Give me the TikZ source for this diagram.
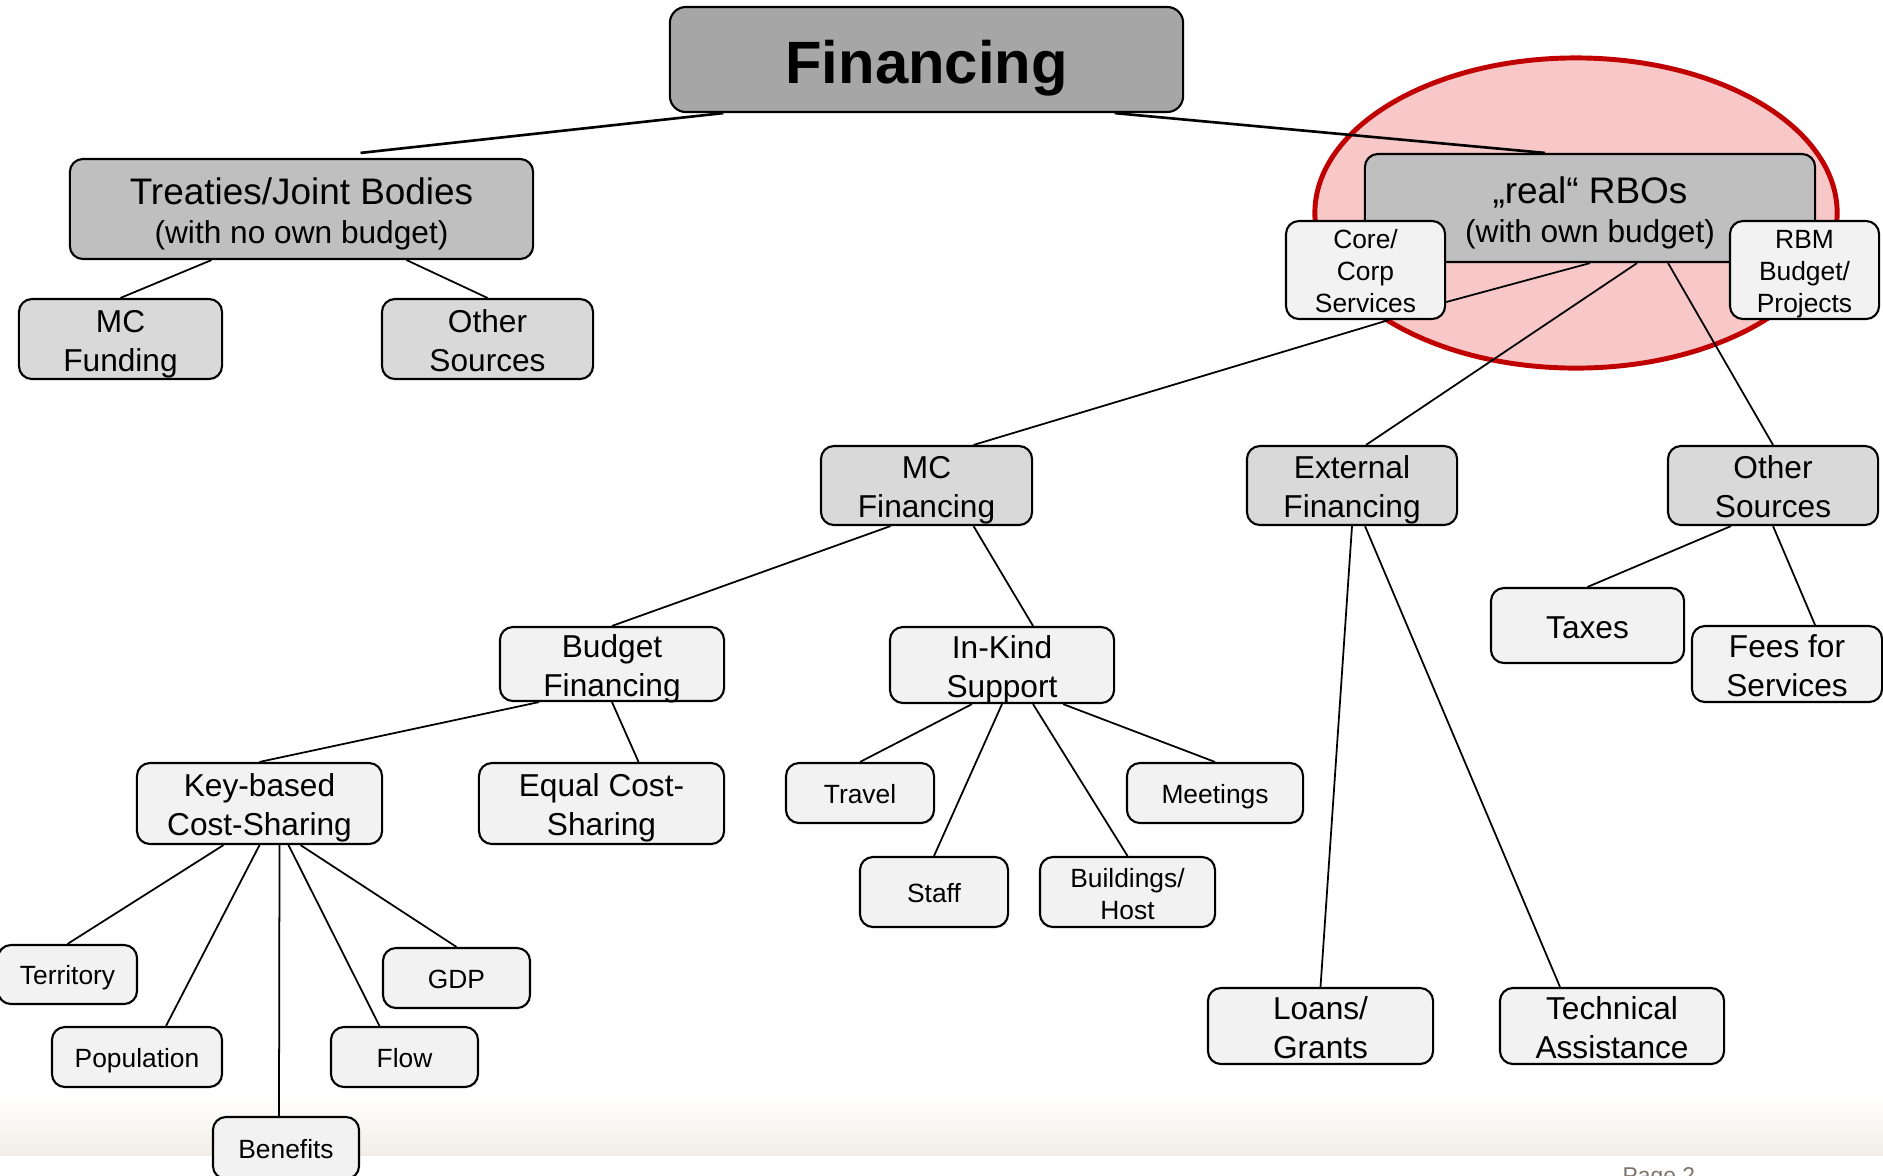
\documentclass[tikz,border=0pt]{standalone}
\usepackage{fontspec}
\setmainfont{Liberation Sans}
\usetikzlibrary{shapes, positioning}

\definecolor{finGray}{RGB}{166,166,166}
\definecolor{headGray}{RGB}{191,191,191}
\definecolor{midGray}{RGB}{217,217,217}
\definecolor{leafGray}{RGB}{242,242,242}
\definecolor{rboPink}{RGB}{248,199,199}
\definecolor{rboRed}{RGB}{192,0,0}
\definecolor{bandTan}{RGB}{242,238,231}
\definecolor{pageGray}{RGB}{125,115,105}

% keeps the text in a box as high as a full line of the font
\newcommand{\boxstrut}{\rule[-0.2em]{0pt}{1.2em}}

\begin{document}
\begin{tikzpicture}[
	x=0.01cm, y=-0.01cm,
	MyBox/.style={rectangle, rounded corners=0.13cm, draw, line width=0.6pt,
		inner sep=0pt, align=center,
		execute at begin node=\boxstrut, execute at end node=\boxstrut},
	TopBox/.style={MyBox, fill=finGray, rounded corners=0.16cm,
		font=\fontsize{17}{20}\selectfont\bfseries},
	HeadBox/.style={MyBox, fill=headGray, text height=21.8pt,
		font=\fontsize{10.5}{11}\selectfont},
	TwoRow/.style={text height=18.9pt, text depth=0.5pt},
	MidBox/.style={MyBox, TwoRow, fill=midGray, font=\fontsize{9}{11.1}\selectfont},
	SubBox/.style={MyBox, fill=leafGray, font=\fontsize{9}{11.1}\selectfont},
	LeafBox/.style={MyBox, fill=leafGray, font=\fontsize{7.5}{9.1}\selectfont},
	BoxSize/.style 2 args={minimum width=#1cm, minimum height=#2cm},
	Link/.style={line width=0.5pt},
	TopLink/.style={line width=0.75pt}
	]

\useasboundingbox (0,0) rectangle (1883,1175);

% page background and the RBO highlight
\shade [top color=white, bottom color=bandTan] (0,1095) rectangle (1883,1155);
\draw [rboRed, fill=rboPink, line width=1.4pt] (1576,213) ellipse [x radius=2.61cm, y radius=1.55cm];

\node [TopBox, BoxSize={5.13}{1.05}] (fin) at (926.5,59.5) {Financing};

\node [HeadBox, BoxSize={4.63}{1.00}] (treaty) at (301.5,209) {Treaties/Joint Bodies\\{\fontsize{9}{11}\selectfont (with no own budget)}};
\node [MidBox, BoxSize={2.03}{0.80}] (mcfund) at (120.5,339) {MC\\Funding};
\node [MidBox, BoxSize={2.11}{0.80}] (othleft) at (487.5,339) {Other\\Sources};

\node [HeadBox, BoxSize={4.50}{1.08}] (rbo) at (1590,208) {„real“ RBOs\\{\fontsize{9}{11}\selectfont (with own budget)}};
\node [LeafBox, BoxSize={1.59}{0.98}, text height=25.6pt] (core) at (1365.5,270) {Core/\\Corp\\Services};
\node [LeafBox, BoxSize={1.49}{0.98}, text height=25.6pt] (rbm) at (1804.5,270) {RBM\\Budget/\\Projects};

\node [MidBox, BoxSize={2.11}{0.79}] (mcfin) at (926.5,485.5) {MC\\Financing};
\node [MidBox, BoxSize={2.10}{0.79}] (extfin) at (1352,485.5) {External\\Financing};
\node [MidBox, BoxSize={2.10}{0.79}] (othright) at (1773,485.5) {Other\\Sources};

\node [SubBox, BoxSize={1.93}{0.75}] (taxes) at (1587.5,625.5) {Taxes};
\node [SubBox, TwoRow, BoxSize={1.90}{0.76}] (fees) at (1787,664) {Fees for\\Services};
\node [SubBox, TwoRow, BoxSize={2.24}{0.74}] (budget) at (612,664) {Budget\\Financing};
\node [SubBox, TwoRow, BoxSize={2.24}{0.76}] (inkind) at (1002,665) {In-Kind\\Support};
\node [SubBox, TwoRow, BoxSize={2.45}{0.81}] (keybased) at (259.5,803.5) {Key-based\\Cost-Sharing};
\node [SubBox, TwoRow, BoxSize={2.45}{0.81}] (equal) at (601.5,803.5) {Equal Cost-\\Sharing};

\node [LeafBox, BoxSize={1.48}{0.60}] (travel) at (860,793) {Travel};
\node [LeafBox, BoxSize={1.76}{0.60}] (meetings) at (1215,793) {Meetings};
\node [LeafBox, BoxSize={1.48}{0.70}] (staff) at (934,892) {Staff};
\node [LeafBox, BoxSize={1.75}{0.70}, text height=17.4pt] (buildings) at (1127.5,892) {Buildings/\\Host};

\node [LeafBox, BoxSize={1.39}{0.59}] (territory) at (67.5,974.5) {Territory};
\node [LeafBox, BoxSize={1.47}{0.60}] (gdp) at (456.5,978) {GDP};
\node [LeafBox, BoxSize={1.70}{0.60}] (population) at (137,1057) {Population};
\node [LeafBox, BoxSize={1.47}{0.60}] (flow) at (404.5,1057) {Flow};
\node [LeafBox, BoxSize={1.46}{0.62}] (benefits) at (286,1148) {Benefits};

\node [SubBox, TwoRow, BoxSize={2.25}{0.76}] (loans) at (1320.5,1026) {Loans/\\Grants};
\node [SubBox, TwoRow, BoxSize={2.24}{0.76}] (technical) at (1612,1026) {Technical\\Assistance};

\node [anchor=north west, text=pageGray, inner sep=0pt,
	font=\fontsize{6.5}{8}\selectfont] (page) at (1622,1167) {Page 2};

% connectors
\draw [TopLink] ([xshift=-2.03cm]fin.south) -- ([xshift=0.59cm,yshift=0.05cm]treaty.north);
\draw [TopLink] ([xshift=1.88cm]fin.south) -- ([xshift=-0.45cm]rbo.north);
\draw [Link] ([xshift=-0.90cm]treaty.south) -- (mcfund.north);
\draw [Link] ([xshift=1.05cm]treaty.south) -- (othleft.north);

\draw [Link] (rbo.south) -- ([yshift=-0.32cm]core.east);
\draw [Link] ([xshift=0.23cm]core.south) -- ([xshift=0.47cm]mcfin.north);
\draw [Link] ([xshift=0.47cm]rbo.south) -- ([xshift=0.14cm]extfin.north);
\draw [Link] ([xshift=0.78cm]rbo.south) -- (othright.north);

\draw [Link] ([xshift=-0.42cm]othright.south) -- (taxes.north);
\draw [Link] (othright.south) -- ([xshift=0.28cm]fees.north);
\draw [Link] (extfin.south) -- (loans.north);
\draw [Link] ([xshift=0.13cm]extfin.south) -- ([xshift=-0.52cm]technical.north);

\draw [Link] ([xshift=-0.36cm]mcfin.south) -- (budget.north);
\draw [Link] ([xshift=0.47cm]mcfin.south) -- ([xshift=0.31cm]inkind.north);
\draw [Link] ([xshift=-0.73cm]budget.south) -- (keybased.north);
\draw [Link] (budget.south) -- ([xshift=0.37cm]equal.north);

\draw [Link] ([xshift=-0.30cm]inkind.south) -- (travel.north);
\draw [Link] (inkind.south) -- (staff.north);
\draw [Link] ([xshift=0.31cm]inkind.south) -- (buildings.north);
\draw [Link] ([xshift=0.61cm]inkind.south) -- (meetings.north);

\draw [Link] ([xshift=-0.36cm]keybased.south) -- (territory.north);
\draw [Link] (keybased.south) -- ([xshift=0.29cm]population.north);
\draw [Link] ([xshift=0.20cm]keybased.south) -- ([xshift=-0.07cm]benefits.north);
\draw [Link] ([xshift=0.29cm]keybased.south) -- ([xshift=-0.25cm]flow.north);
\draw [Link] ([xshift=0.41cm]keybased.south) -- (gdp.north);

\end{tikzpicture}
\end{document}
